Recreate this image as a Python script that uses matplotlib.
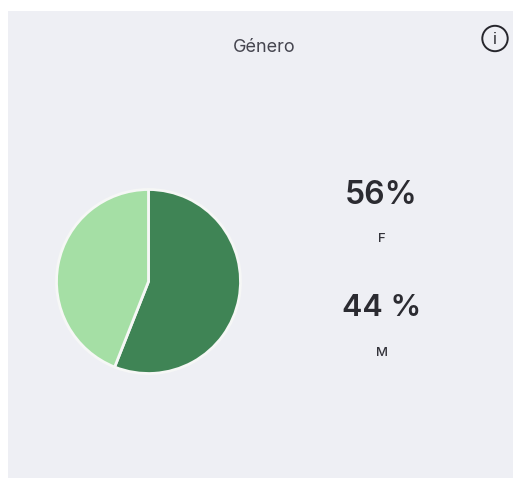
import matplotlib
matplotlib.use('Agg')
import matplotlib.pyplot as plt
from matplotlib.patches import Rectangle, Circle

W, H = 513, 478

title = 'Género'
categories = ['F', 'M']
values = [56, 44]
value_labels = ['56%', '44 %']
colors = ['#3F8455', '#A5DFA5']

plt.rcParams['font.family'] = ['Inter', 'Liberation Sans', 'DejaVu Sans']

fig = plt.figure(figsize=(W / 100, H / 100), dpi=100, facecolor='white')

# fondo en coordenadas de pixel
bg = fig.add_axes([0, 0, 1, 1])
bg.set_xlim(0, W)
bg.set_ylim(H, 0)
bg.axis('off')
bg.add_patch(Rectangle((8, 11), W - 8, H - 11, facecolor='#EEEFF4', edgecolor='none'))

# icono de info
bg.add_patch(Circle((495, 38.5), 12.7, facecolor='none', edgecolor='#26262C', linewidth=1.4))
bg.text(495, 39, 'i', ha='center', va='center', fontsize=11.5, color='#26262C')

bg.text(264.5, 47, title, ha='center', va='center', fontsize=13, color='#45454F')

# textos de la derecha
bg.text(381.5, 195.5, value_labels[0], ha='center', va='center', fontsize=23, fontweight='semibold', color='#2B2B31')
bg.text(382, 238.5, categories[0], ha='center', va='center', fontsize=9.5, fontweight='medium', color='#33333A')
bg.text(382, 308, value_labels[1], ha='center', va='center', fontsize=22, fontweight='semibold', color='#2B2B31')
bg.text(382, 353, categories[1], ha='center', va='center', fontsize=9.5, fontweight='medium', color='#33333A')

# pie
cx, cy, r = 148.5, 281.5, 92
pie_ax = fig.add_axes([(cx - r) / W, 1 - (cy + r) / H, 2 * r / W, 2 * r / H])
pie_ax.pie(values, colors=colors, startangle=90, counterclock=False, radius=1,
           wedgeprops={'edgecolor': '#F6F7F6', 'linewidth': 2})
pie_ax.set_xlim(-1, 1)
pie_ax.set_ylim(-1, 1)
pie_ax.patch.set_alpha(0)

fig.savefig('out.png', dpi=100)
plt.close(fig)
